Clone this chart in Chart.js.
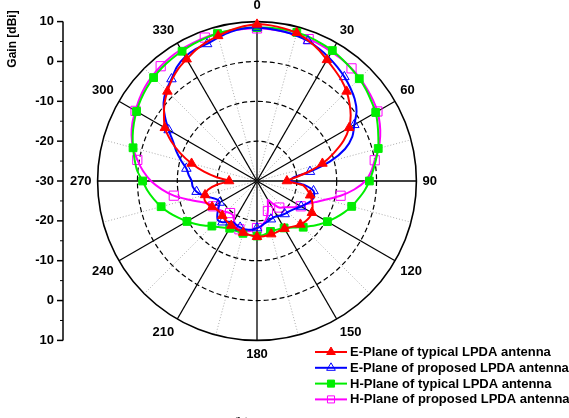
<!DOCTYPE html>
<html>
<head>
<meta charset="utf-8">
<title>Radiation pattern - 806 MHz</title>
<script src="https://cdn.jsdelivr.net/npm/chart.js@4.4.1/dist/chart.umd.min.js"></script>
<style>
  html, body { margin: 0; padding: 0; background: #fff; overflow: hidden; }
  #wrap { position: absolute; left: 0; top: -10px; width: 569px; height: 428px; }
  #caption { position: absolute; left: 232px; top: 415px; font: 16px "Liberation Serif", "Times New Roman", serif; white-space: pre; }
</style>
</head>
<body>
<div id="wrap"><canvas id="patternChart"></canvas></div>
<div id="caption">(b)  806 MHz</div>
<script>
// angles in degrees (5 deg steps)
const angles = [0, 5, 10, 15, 20, 25, 30, 35, 40, 45, 50, 55, 60, 65, 70, 75, 80, 85,
  90, 95, 100, 105, 110, 115, 120, 125, 130, 135, 140, 145, 150, 155, 160, 165, 170, 175,
  180, 185, 190, 195, 200, 205, 210, 215, 220, 225, 230, 235, 240, 245, 250, 255, 260, 265,
  270, 275, 280, 285, 290, 295, 300, 305, 310, 315, 320, 325, 330, 335, 340, 345, 350, 355];

// gain in dBi
const ePlaneTypical = [9.3, 9.2, 8.9, 8.5, 7.5, 6.4, 5.1, 4.0, 3.0, 1.8, 0.3, -1.3, -3.3, -6.0, -9.5, -13.0, -17.0, -20.5,
  -22.5, -18.5, -17.2, -16.2, -15.3, -14.6, -14.1, -14.0, -14.2, -14.6, -15.2, -15.8, -16.2, -16.3, -16.2, -16.2, -16.1, -16.0,
  -16.0, -16.2, -16.4, -16.6, -16.8, -17.0, -17.1, -17.3, -17.5, -17.7, -17.8, -17.6, -17.0, -16.3, -16.0, -16.5, -17.5, -20.0,
  -23.0, -20.0, -16.5, -13.0, -9.5, -6.2, -3.3, -1.5, 0.3, 1.8, 3.2, 4.4, 5.3, 6.3, 7.1, 7.7, 8.4, 9.0];

const ePlaneProposed = [8.5, 8.3, 8.1, 7.8, 7.4, 6.7, 5.9, 5.0, 4.1, 3.1, 2.0, 0.5, -1.8, -3.6, -6.5, -11.0, -16.5, -21.0,
  -21.5, -18.0, -15.6, -15.2, -15.5, -16.4, -17.2, -18.0, -18.6, -19.0, -19.2, -19.5, -19.8, -20.0, -19.8, -19.5, -19.2, -18.6,
  -18.2, -17.8, -17.6, -17.5, -17.6, -17.8, -18.0, -17.5, -16.5, -16.1, -17.0, -18.2, -19.2, -19.0, -17.8, -16.0, -14.6, -13.8,
  -13.6, -12.8, -12.0, -10.3, -8.5, -6.8, -4.4, -1.8, 0.6, 2.2, 3.4, 5.0, 6.0, 6.5, 6.6, 7.3, 8.0, 8.4];

const hPlaneTypical = [8.5, 8.6, 8.6, 8.6, 8.4, 8.1, 7.8, 7.3, 6.8, 6.3, 5.7, 5.0, 4.4, 3.4, 2.4, 1.5, 0.3, -0.8,
  -1.8, -2.9, -4.2, -5.4, -6.8, -8.2, -9.6, -11.0, -12.4, -13.6, -14.8, -15.7, -16.4, -16.7, -16.9, -16.9, -16.6, -16.3,
  -16.2, -16.3, -16.4, -16.4, -16.4, -16.4, -16.3, -15.7, -14.9, -14.0, -12.6, -11.2, -9.7, -8.2, -6.6, -5.1, -3.7, -2.4,
  -1.3, 0.2, 1.2, 2.2, 3.2, 4.1, 4.9, 5.6, 6.2, 6.7, 7.1, 7.4, 7.6, 7.9, 8.1, 8.3, 8.4, 8.5];

const hPlaneProposed = [8.3, 8.2, 8.1, 8.0, 7.9, 7.7, 7.4, 7.2, 6.9, 6.5, 6.0, 5.5, 4.9, 4.0, 2.9, 1.6, 0.0, -1.2,
  -2.8, -5.5, -8.7, -12.0, -14.5, -16.3, -17.3, -18.5, -19.8, -20.6, -21.3, -23.0, -24.5, -23.5, -22.0, -20.5, -19.4, -18.6,
  -18.2, -17.6, -17.2, -17.0, -17.1, -17.5, -18.5, -19.5, -19.5, -19.0, -18.4, -17.8, -17.3, -16.6, -14.8, -12.0, -8.8, -6.0,
  -3.4, -1.3, 0.5, 2.2, 3.5, 4.5, 5.2, 6.0, 6.7, 7.2, 7.6, 7.9, 8.1, 8.2, 8.3, 8.3, 8.3, 8.3];

const seriesNames = [
  "E-Plane of typical LPDA antenna",
  "E-Plane of proposed LPDA antenna",
  "H-Plane of typical LPDA antenna",
  "H-Plane of proposed LPDA antenna"
];

const gainTicks = [10, 0, -10, -20, -30];
const gainMinorTicks = [5, -5, -15, -25];

const boldFont = '"Liberation Sans", Arial, sans-serif';

// left gain axis + legend drawn from the radial scale
const gainAxisPlugin = {
  id: "gainAxis",
  afterDraw(chart) {
    const ctx = chart.ctx;
    const r = chart.scales.r;
    const axisX = 63;
    const full = r.getDistanceFromCenterForValue(r.max);

    ctx.save();
    ctx.strokeStyle = "#000";
    ctx.fillStyle = "#000";
    ctx.lineWidth = 1.5;
    ctx.beginPath();
    ctx.moveTo(axisX, r.yCenter - full);
    ctx.lineTo(axisX, r.yCenter + full);
    ctx.stroke();

    ctx.font = "bold 13px " + boldFont;
    ctx.textAlign = "right";
    ctx.textBaseline = "middle";
    gainTicks.forEach((v) => {
      const d = r.getDistanceFromCenterForValue(v);
      const sides = v === r.min ? [1] : [-1, 1];
      sides.forEach((s) => {
        const y = r.yCenter + s * d;
        ctx.beginPath();
        ctx.moveTo(axisX - 6, y);
        ctx.lineTo(axisX, y);
        ctx.stroke();
        ctx.fillText(String(v), axisX - 9, y);
      });
    });
    ctx.lineWidth = 1;
    gainMinorTicks.forEach((v) => {
      const d = r.getDistanceFromCenterForValue(v);
      [-1, 1].forEach((s) => {
        const y = r.yCenter + s * d;
        ctx.beginPath();
        ctx.moveTo(axisX - 3, y);
        ctx.lineTo(axisX, y);
        ctx.stroke();
      });
    });

    // axis title
    ctx.save();
    ctx.translate(13, 49);
    ctx.rotate(-Math.PI / 2);
    ctx.textAlign = "center";
    ctx.font = "bold 12px " + boldFont;
    ctx.fillText("Gain [dBi]", 0, 0);
    ctx.restore();

    // legend
    ctx.textAlign = "left";
    ctx.font = "bold 13px " + boldFont;
    chart.data.datasets.forEach((ds, i) => {
      const y = 362 + i * 15.8;
      ctx.strokeStyle = ds.borderColor;
      ctx.lineWidth = 2;
      ctx.beginPath();
      ctx.moveTo(315, y);
      ctx.lineTo(347, y);
      ctx.stroke();
      ctx.fillStyle = ds.pointBackgroundColor;
      ctx.lineWidth = 1;
      Chart.helpers.drawPoint(ctx, { pointStyle: ds.pointStyle, radius: 5, rotation: 0, borderWidth: 1 }, 331, y);
      ctx.fillStyle = "#000";
      ctx.fillText(ds.label, 350, y + 0.5);
    });
    ctx.restore();
  }
};

function everyN(n, size) {
  return (c) => (c.dataIndex % n === 0 ? size : 0);
}

new Chart(document.getElementById("patternChart"), {
  type: "radar",
  data: {
    labels: angles,
    datasets: [
      {
        label: seriesNames[0],
        data: ePlaneTypical,
        borderColor: "#ff0000",
        pointBackgroundColor: "#ff0000",
        pointBorderColor: "#ff0000",
        pointStyle: "triangle",
        pointRadius: everyN(3, 5.5)
      },
      {
        label: seriesNames[1],
        data: ePlaneProposed,
        borderColor: "#0000ff",
        pointBackgroundColor: "rgba(255,255,255,0)",
        pointBorderColor: "#0000ff",
        pointStyle: "triangle",
        pointRadius: everyN(4, 5.5)
      },
      {
        label: seriesNames[2],
        data: hPlaneTypical,
        borderColor: "#00ee00",
        pointBackgroundColor: "#00ee00",
        pointBorderColor: "#00ee00",
        pointStyle: "rect",
        pointRadius: everyN(3, 5.5)
      },
      {
        label: seriesNames[3],
        data: hPlaneProposed,
        borderColor: "#ff00ff",
        pointBackgroundColor: "rgba(255,255,255,0)",
        pointBorderColor: "#ff00ff",
        pointStyle: "rect",
        pointRadius: everyN(4, 6.5)
      }
    ]
  },
  options: {
    responsive: true,
    maintainAspectRatio: false,
    animation: false,
    layout: { padding: { left: 40, right: 95, top: 8, bottom: 54 } },
    elements: {
      line: { borderWidth: 2, tension: 0.25, fill: false },
      point: { borderWidth: 1, hoverRadius: 0 }
    },
    plugins: {
      legend: { display: false },
      tooltip: { enabled: false }
    },
    scales: {
      r: {
        min: -30,
        max: 10,
        startAngle: 0,
        ticks: { display: false, stepSize: 10 },
        grid: {
          circular: true,
          color: "#000",
          lineWidth: (c) => (c.tick && c.tick.value === 10 ? 1.6 : 1.2)
        },
        border: {
          dash: (c) => (c.tick && c.tick.value === 10 ? [] : [5, 3])
        },
        angleLines: {
          display: true,
          color: (c) => (c.index % 6 === 0 ? "#000" : c.index % 3 === 0 ? "#888" : "rgba(0,0,0,0)"),
          lineWidth: (c) => (c.index % 6 === 0 ? 1.3 : c.index % 3 === 0 ? 0.7 : 0),
          borderDash: (c) => (c.index % 6 === 0 ? [] : [1, 2])
        },
        pointLabels: {
          color: "#000",
          font: { family: boldFont, size: 13, weight: "bold" },
          padding: (c) => (c.index === 0 ? 8 : 6),
          callback: (label, index) => (index % 6 === 0 ? String(label) : "")
        }
      }
    }
  },
  plugins: [gainAxisPlugin]
});
</script>
</body>
</html>
